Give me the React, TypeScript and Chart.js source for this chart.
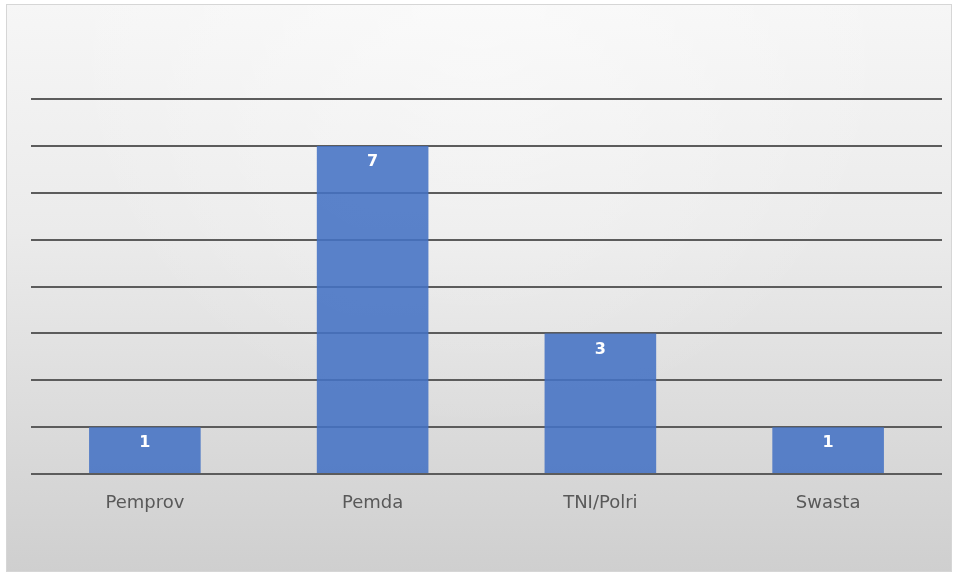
import React, { useEffect, useRef } from "react";
import { Chart, registerables } from "chart.js";

Chart.register(...registerables);

const categories = ["Pemprov", "Pemda", "TNI/Polri", "Swasta"];
const counts = [1, 7, 3, 1];
const yMin = 0;
const yMax = 8;
const yStep = 1;

// Panel background: soft gray gradient with a thin frame
const panelBackground = {
  id: "panelBackground",
  beforeDraw(chart: Chart) {
    const { ctx, width, height } = chart;
    ctx.save();
    ctx.fillStyle = "#ffffff";
    ctx.fillRect(0, 0, width, height);
    const x0 = 6, y0 = 4, x1 = width - 6, y1 = height - 3;
    const g = ctx.createLinearGradient(0, y0, 0, y1);
    g.addColorStop(0, "#f6f6f6");
    g.addColorStop(0.4, "#ebebeb");
    g.addColorStop(1, "#cfcfcf");
    ctx.fillStyle = g;
    ctx.fillRect(x0, y0, x1 - x0, y1 - y0);
    // faint highlight near the top centre
    const r = ctx.createRadialGradient(width / 2, 0, 10, width / 2, 0, width * 0.45);
    r.addColorStop(0, "rgba(255,255,255,0.45)");
    r.addColorStop(1, "rgba(255,255,255,0)");
    ctx.fillStyle = r;
    ctx.fillRect(x0, y0, x1 - x0, y1 - y0);
    ctx.strokeStyle = "#d6d6d6";
    ctx.lineWidth = 1;
    ctx.strokeRect(x0 + 0.5, y0 + 0.5, x1 - x0 - 1, y1 - y0 - 1);
    ctx.restore();
  },
};

// White value labels inside the top of each bar
const barValueLabels = {
  id: "barValueLabels",
  afterDatasetsDraw(chart: Chart) {
    const { ctx } = chart;
    const meta = chart.getDatasetMeta(0);
    const data = chart.data.datasets[0].data as number[];
    ctx.save();
    ctx.fillStyle = "#ffffff";
    ctx.font = "bold 16px 'DejaVu Sans', sans-serif";
    ctx.textAlign = "center";
    ctx.textBaseline = "middle";
    meta.data.forEach((bar: any, i: number) => {
      ctx.fillText(String(data[i]), bar.x, bar.y + 16);
    });
    ctx.restore();
  },
};

export default function App() {
  const canvasRef = useRef<HTMLCanvasElement | null>(null);

  useEffect(() => {
    document.body.style.margin = "0";
    const canvas = canvasRef.current;
    if (!canvas) return;
    const chart = new Chart(canvas, {
      type: "bar",
      data: {
        labels: categories,
        datasets: [
          {
            data: counts,
            backgroundColor: "rgba(68,114,196,0.88)",
            borderWidth: 0,
            categoryPercentage: 0.49,
            barPercentage: 1,
          },
        ],
      },
      options: {
        animation: false,
        responsive: false,
        maintainAspectRatio: false,
        devicePixelRatio: 1,
        layout: { padding: { left: 31, right: 16, top: 99, bottom: 41 } },
        plugins: {
          legend: { display: false },
          tooltip: { enabled: false },
          title: { display: false },
        },
        scales: {
          x: {
            grid: { display: false, drawTicks: false },
            border: { display: false },
            ticks: {
              color: "#595959",
              font: { family: "'DejaVu Sans', sans-serif", size: 18 },
              padding: 19,
            },
            afterFit(scale: any) {
              scale.height = 60;
            },
          },
          y: {
            min: yMin,
            max: yMax,
            ticks: { display: false, stepSize: yStep },
            grid: { color: "#5c5c5c", lineWidth: 2, drawTicks: false },
            border: { display: false },
            afterFit(scale: any) {
              scale.width = 0;
            },
          },
        },
      },
      plugins: [panelBackground, barValueLabels],
    });
    return () => chart.destroy();
  }, []);

  return (
    <div style={{ width: 958, height: 575 }}>
      <canvas ref={canvasRef} width={958} height={575} style={{ display: "block" }} />
    </div>
  );
}
